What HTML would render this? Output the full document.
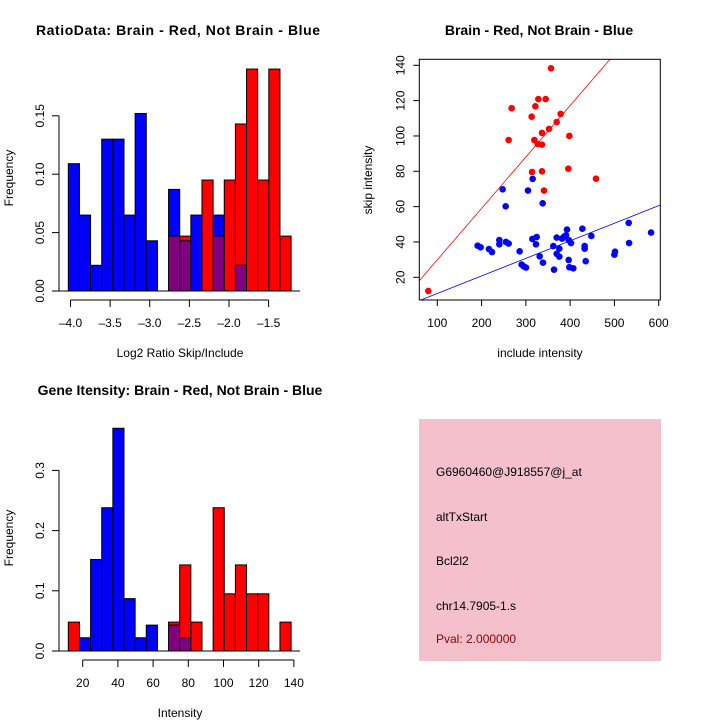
<!DOCTYPE html>
<html><head><meta charset="utf-8"><style>
body{margin:0;background:#fff;}
svg{display:block;font-family:"Liberation Sans",sans-serif;}
</style></head><body>
<svg id="s" width="720" height="720" viewBox="0 0 720 720">
<rect width="720" height="720" fill="#fff"/>
<text x="178" y="35" text-anchor="middle" font-size="14" font-weight="bold" textLength="284">RatioData: Brain - Red, Not Brain - Blue</text>
<text x="539" y="35" text-anchor="middle" font-size="14" font-weight="bold">Brain - Red, Not Brain - Blue</text>
<text x="180" y="395" text-anchor="middle" font-size="14" font-weight="bold">Gene Itensity: Brain - Red, Not Brain - Blue</text>
<text x="180" y="357" text-anchor="middle" font-size="12">Log2 Ratio Skip/Include</text>
<text transform="translate(13,178) rotate(-90)" text-anchor="middle" font-size="12">Frequency</text>
<text x="180" y="717" text-anchor="middle" font-size="12">Intensity</text>
<text transform="translate(13,538) rotate(-90)" text-anchor="middle" font-size="12">Frequency</text>
<text x="540" y="357" text-anchor="middle" font-size="12">include intensity</text>
<text transform="translate(372,180) rotate(-90)" text-anchor="middle" font-size="12">skip intensity</text>
<g>
<rect x="419" y="419" width="242" height="242" fill="#f4c0cc"/>
<text x="436" y="476" font-size="12">G6960460@J918557@j_at</text>
<text x="436" y="521" font-size="12">altTxStart</text>
<text x="436" y="565" font-size="12">Bcl2l2</text>
<text x="436" y="610" font-size="12">chr14.7905-1.s</text>
<text x="436" y="643" font-size="12" fill="#8b0000">Pval: 2.000000</text>
</g>
</svg>
<script>
const ratioRed=[0,0,0,0,0,0,0,0,0,0.047,0.047,0,0.095,0.047,0.095,0.143,0.19,0.095,0.19,0.047];
const ratioBlue=[0.109,0.065,0.022,0.13,0.13,0.065,0.152,0.043,0,0.087,0.043,0.065,0,0.065,0,0.022,0,0,0,0];
const ratioXTicks=[-4.0,-3.5,-3.0,-2.5,-2.0,-1.5];
const ratioYTicks=[0,0.05,0.10,0.15];
const intRed=[0.048,0,0,0,0,0,0,0,0,0.048,0.143,0.048,0,0.238,0.095,0.143,0.095,0.095,0,0.048];
const intBlue=[0,0.022,0.152,0.238,0.37,0.087,0.022,0.043,0,0.043,0.022,0,0,0,0,0,0,0,0,0];
const intXTicks=[20,40,60,80,100,120,140];
const intYTicks=[0,0.1,0.2,0.3];
const redPts=[[79.7,12.3],[356.8,138.3],[328.2,120.9],[344.7,120.9],[267.9,115.7],[321.4,116.8],[313.1,110.9],[378.6,112.5],[369.6,107.9],[352.3,104.0],[336.4,101.7],[398.2,100.0],[261.1,97.7],[319.1,97.7],[326.7,95.5],[336.4,95.1],[313.9,79.6],[336.4,80.0],[395.9,81.5],[458.4,75.8],[341.0,69.1]];
const bluePts=[[247.6,69.8],[304.8,69.1],[315.4,75.7],[254.4,60.2],[338,61.9],[191.1,37.9],[197.9,37.0],[216.7,36.0],[223.5,34.3],[240.1,41.1],[240.1,38.7],[255.1,40.0],[261.1,39.1],[286.0,34.7],[290.5,27.2],[295.0,26.2],[300.3,25.5],[314.6,41.7],[324.4,42.8],[322.9,38.7],[331.2,31.9],[338.7,28.3],[362.0,37.7],[363.6,24.3],[369.6,42.5],[369.6,33.3],[375.6,36.2],[375.6,31.7],[381.6,41.9],[386.1,43.0],[390.7,43.8],[393.0,47.0],[396.7,41.1],[402,39.4],[396.7,29.8],[398.2,25.7],[407.2,25.1],[427.6,47.5],[432.8,37.7],[432.8,36.2],[435.1,29.1],[447.9,43.4],[499.9,32.8],[501.4,34.5],[532.3,50.8],[533.1,39.4],[582.8,45.3]];
const scatXTicks=[100,200,300,400,500,600];
const scatYTicks=[20,40,60,80,100,120,140];
const redFit=[0.8,0.291];
const blueFit=[0.9,0.0994];

const S=document.getElementById('s');const NS='http://www.w3.org/2000/svg';
function mk(t,a,p){const e=document.createElementNS(NS,t);for(const k in a)e.setAttribute(k,a[k]);(p||S).appendChild(e);return e;}

function hist(red,blue,x0,binW,base,yScale,xTicks,xPix,xAxY,yTicks,fmt,xfmt,name){
  const g=mk('g',{});
  
  
  const y=v=>base-v*yScale;
  red.forEach((r,i)=>{const b=blue[i];const x=x0+i*binW;const lo=Math.min(r,b),hi=Math.max(r,b);
    if(hi<=0)return;
    const top=mk('rect',{x:x,y:y(hi),width:binW,height:(hi-lo)*yScale,fill:r>b?'#ff0000':'#0000ff',stroke:'#000','stroke-width':1},g);
    
    
    if(lo>0){const m=mk('rect',{x:x,y:y(lo),width:binW,height:lo*yScale,fill:'#800080',stroke:'#000','stroke-width':1},g);
      
      }
  });
  mk('line',{x1:52,x2:300,y1:base,y2:base,stroke:'#000'},g);
  const ya=mk('g',{},g);
  
  
  mk('line',{x1:59,x2:59,y1:y(yTicks[0]),y2:y(yTicks[yTicks.length-1]),stroke:'#000'},ya);
  yTicks.forEach(t=>{mk('line',{x1:52,x2:59,y1:y(t),y2:y(t),stroke:'#000'},ya);
    const tx=mk('text',{transform:`translate(44,${y(t)}) rotate(-90)`,'text-anchor':'middle','font-size':12},ya);tx.textContent=fmt(t);});
  const xa=mk('g',{},g);
  
  
  const X=xPix;
  mk('line',{x1:X(xTicks[0]),x2:X(xTicks[xTicks.length-1]),y1:xAxY,y2:xAxY,stroke:'#000'},xa);
  xTicks.forEach(t=>{mk('line',{x1:X(t),x2:X(t),y1:xAxY,y2:xAxY+7,stroke:'#000'},xa);
    const tx=mk('text',{x:X(t),y:xAxY+27,'text-anchor':'middle','font-size':12},xa);tx.textContent=xfmt(t);});
}
hist(ratioRed,ratioBlue,68.3,11.14,291,58.4/0.05,ratioXTicks,v=>70.5+(v+4)*79.25,300,ratioYTicks,t=>t.toFixed(2),t=>t.toFixed(1).replace('-','\u2013'),'ratio-histogram');
hist(intRed,intBlue,68.3,11.14,651,602,intXTicks,v=>82.7+(v-20)*1.76,660,intYTicks,t=>t.toFixed(1),t=>String(t),'intensity-histogram');

// scatter
const L=419.3,R=660.3,T=59.3,B=300;
const sx=v=>437.3+(v-100)*0.4428, sy=v=>277.3-(v-20)*1.7667;
const sg=mk('g',{});


const cp=mk('clipPath',{id:'cp'},sg);
mk('rect',{x:L,y:T,width:R-L,height:B-T},cp);
const xl0=(L-437.3)/0.4428+100,xl1=(R-437.3)/0.4428+100;
[[redFit,'#ff0000','red-fit-line'],[blueFit,'#0000ff','blue-fit-line']].forEach(([f,c,n])=>{
  const ln=mk('line',{x1:sx(xl0),y1:sy(f[0]+f[1]*xl0),x2:sx(xl1),y2:sy(f[0]+f[1]*xl1),stroke:c,'stroke-width':0.8,'clip-path':'url(#cp)'},sg);
  
  
});
redPts.forEach(p=>{const c=mk('circle',{cx:sx(p[0]),cy:sy(p[1]),r:3.3,fill:'#ff0000'},sg);
  
  });
bluePts.forEach(p=>{const c=mk('circle',{cx:sx(p[0]),cy:sy(p[1]),r:3.3,fill:'#0000ff'},sg);
  
  });
mk('rect',{x:L,y:T,width:R-L,height:B-T,fill:'none',stroke:'#000'},sg);
scatXTicks.forEach(t=>{mk('line',{x1:sx(t),x2:sx(t),y1:B,y2:B+6,stroke:'#000'},sg);
  const tx=mk('text',{x:sx(t),y:B+27,'text-anchor':'middle','font-size':12},sg);tx.textContent=t;});
scatYTicks.forEach(t=>{mk('line',{x1:L-6,x2:L,y1:sy(t),y2:sy(t),stroke:'#000'},sg);
  const tx=mk('text',{transform:`translate(${L-15},${sy(t)}) rotate(-90)`,'text-anchor':'middle','font-size':12},sg);tx.textContent=t;});
</script>
</body></html>
